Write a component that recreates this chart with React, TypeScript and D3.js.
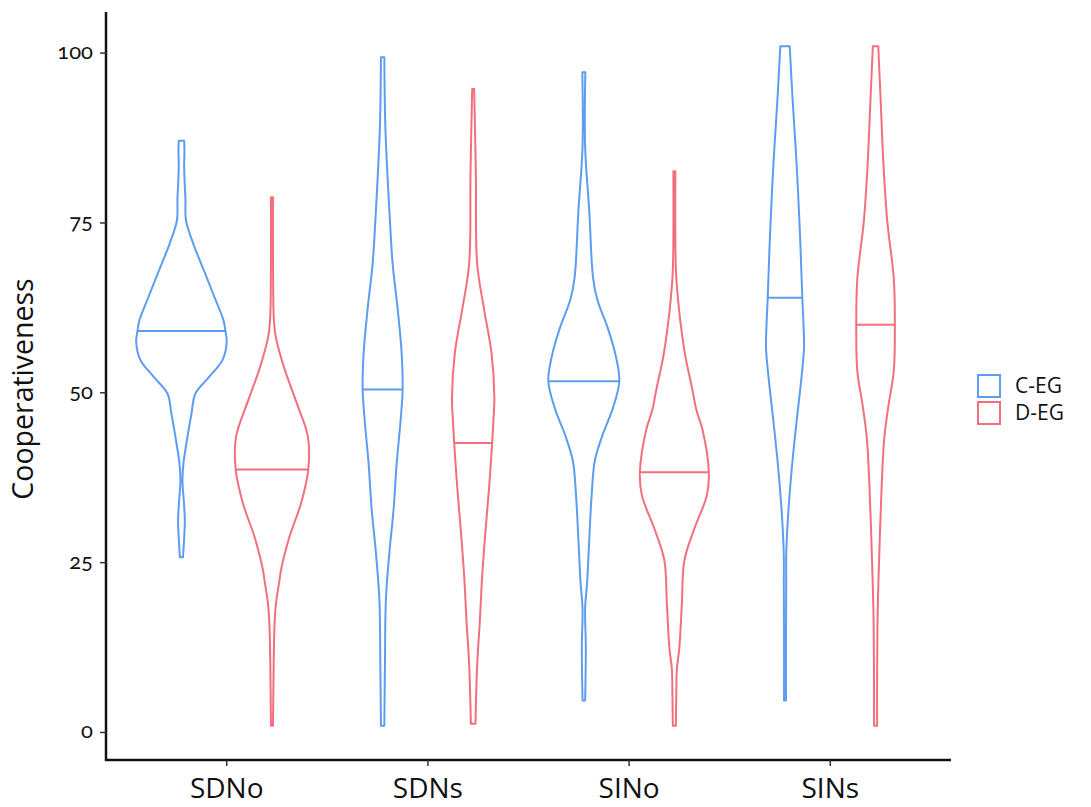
import React, { useEffect, useRef } from "react";
import * as d3 from "d3";

// Categories and groups
const categories = ["SDNo", "SDNs", "SINo", "SINs"];
const groups = ["C-EG", "D-EG"];
const groupColors = ["#5E9CF2", "#F2707E"];
const yTicks = [0, 25, 50, 75, 100];

// Density profiles: [cooperativeness, relative density], ascending by value
const sdnoCEG: [number, number][] = [
  [25.8, 1.5], [27.3, 2.2], [31.2, 3.4], [34, 2.4], [37.1, 1], [39.6, 2], [43.5, 6],
  [46.9, 10], [49.9, 14], [52.3, 27.5], [54.8, 41], [57.5, 45.3], [59.1, 44],
  [60.7, 42], [64.1, 33], [68, 22.5], [72, 11.7], [75.4, 4.5], [78.5, 4],
  [81, 3.2], [83.5, 2.7], [85.5, 3], [87.1, 2.7],
];
const sdnoDEG: [number, number][] = [
  [1, 1], [5, 1.3], [9, 1.6], [13, 2], [16, 2.6], [19, 4], [22.4, 7.5], [23.9, 9],
  [28.8, 17.5], [33.7, 29], [38.7, 36.3], [43.5, 36], [48.4, 25], [53.3, 13],
  [56, 7.5], [58.5, 3.5], [61, 1.8], [65, 1.2], [72, 1], [78.8, 1],
];
const sdnsCEG: [number, number][] = [
  [1, 1.7], [9.9, 2.3], [19.7, 3.3], [26.4, 6.7], [32.9, 11], [39.5, 14], [46, 18],
  [50.5, 20], [55.9, 19], [62.4, 15], [69, 10], [75.6, 7.2], [88.8, 2.8], [99.4, 1.7],
];
const sdnsDEG: [number, number][] = [
  [1.3, 2.3], [9.9, 4], [16.5, 6.7], [23, 9], [29.6, 12.3], [36.2, 16], [42.6, 19],
  [46, 20.3], [49.3, 21.2], [55.9, 18.3], [62.4, 10.8], [69, 4], [82.2, 2.7], [94.7, 1],
];
const sinoCEG: [number, number][] = [
  [4.7, 1.3], [12.5, 2], [18.3, 1.3], [22.1, 3.3], [28.6, 5.5], [34.9, 7.8], [40, 11],
  [43.9, 19], [47.7, 29], [51.7, 35.5], [55.4, 32], [59.3, 24.5], [63.8, 13.3],
  [67, 9.2], [76.6, 5.5], [86.2, 1.3], [97.2, 1.5],
];
const sinoDEG: [number, number][] = [
  [1, 1.5], [6.2, 2], [9.3, 2.5], [12.5, 5], [18.9, 7.5], [25.3, 10], [29.8, 19.5],
  [34.9, 32.5], [38.3, 34.5], [44.5, 28.3], [47.5, 22], [50.5, 18], [55.4, 11],
  [60.5, 6], [64, 3.5], [68.2, 1.5], [82.6, 1],
];
const sinsCEG: [number, number][] = [
  [4.7, 1], [15, 1], [22, 1.2], [26.6, 1.3], [33.3, 3.7], [40, 7.5], [46.6, 12.2],
  [51.3, 15.8], [56.6, 19], [60, 18.5], [64, 17.3], [73.3, 15], [83.4, 11.7],
  [93.4, 7.5], [101, 4.7],
];
const sinsDEG: [number, number][] = [
  [1, 1.5], [16.6, 2], [26.6, 3.8], [36.6, 6.2], [43.3, 8.7], [48, 12.8], [53.3, 18.3],
  [60, 19.3], [66.7, 18.3], [75.3, 11.7], [83.4, 8], [93.4, 5], [101, 2.7],
];

// Medians per category, [C-EG, D-EG]
const medians: [number, number][] = [
  [59.1, 38.7],
  [50.5, 42.6],
  [51.7, 38.3],
  [64, 60],
];

const profiles: [number, number][][][] = [
  [sdnoCEG, sdnoDEG],
  [sdnsCEG, sdnsDEG],
  [sinoCEG, sinoDEG],
  [sinsCEG, sinsDEG],
];

const W = 1091;
const H = 807;
const plotLeft = 106;
const plotRight = 951;
const plotTop = 12;
const plotBottom = 760;

export default function App() {
  const ref = useRef<SVGSVGElement | null>(null);

  useEffect(() => {
    const svg = d3.select(ref.current);
    svg.selectAll("*").remove();

    const y = d3.scaleLinear().domain([-4.05, 106.05]).range([plotBottom, plotTop]);
    const x = d3.scalePoint<string>().domain(categories).range([plotLeft, plotRight]).padding(0.6);
    const step = x.step();
    const dodge = d3.scalePoint<string>().domain(groups).range([-0.225 * step, 0.225 * step]);

    const maxDensity = d3.max(profiles.flat(), (p) => d3.max(p, (d) => d[1])) as number;
    const w = d3.scaleLinear().domain([0, maxDensity]).range([0, 0.225 * step]);

    const widthAt = (prof: [number, number][], v: number) => {
      const i = d3.bisector((d: [number, number]) => d[0]).left(prof, v);
      if (i <= 0) return prof[0][1];
      if (i >= prof.length) return prof[prof.length - 1][1];
      const a = prof[i - 1], b = prof[i];
      const t = (v - a[0]) / (b[0] - a[0]);
      return a[1] + t * (b[1] - a[1]);
    };

    const g = svg.append("g");

    categories.forEach((cat, ci) => {
      groups.forEach((grp, gi) => {
        const cx = (x(cat) as number) + (dodge(grp) as number);
        const prof = profiles[ci][gi];
        const area = d3
          .area<[number, number]>()
          .y((d) => y(d[0]))
          .x0((d) => cx - w(d[1]))
          .x1((d) => cx + w(d[1]))
          .curve(d3.curveCatmullRom.alpha(0.5));
        g.append("path")
          .attr("d", area(prof) as string)
          .attr("fill", "none")
          .attr("stroke", groupColors[gi])
          .attr("stroke-width", 2)
          .attr("stroke-linejoin", "round");
        const m = medians[ci][gi];
        const mw = w(widthAt(prof, m));
        g.append("line")
          .attr("x1", cx - mw)
          .attr("x2", cx + mw)
          .attr("y1", y(m))
          .attr("y2", y(m))
          .attr("stroke", groupColors[gi])
          .attr("stroke-width", 2);
      });
    });

    // Y axis
    const yAxis = svg.append("g");
    yAxis
      .append("line")
      .attr("x1", plotLeft)
      .attr("x2", plotLeft)
      .attr("y1", plotTop)
      .attr("y2", plotBottom + 1)
      .attr("stroke", "#111")
      .attr("stroke-width", 2.5);
    yTicks.forEach((t) => {
      yAxis
        .append("line")
        .attr("x1", plotLeft - 6)
        .attr("x2", plotLeft)
        .attr("y1", y(t))
        .attr("y2", y(t))
        .attr("stroke", "#333")
        .attr("stroke-width", 1.5);
      yAxis
        .append("text")
        .attr("x", plotLeft - 13)
        .attr("y", y(t) + 6)
        .attr("text-anchor", "end")
        .attr("font-family", "Lato, 'Open Sans', sans-serif")
        .attr("font-size", 22)
        .style("font-variant-numeric", "oldstyle-nums")
        .attr("fill", "#111")
        .text(String(t));
    });
    yAxis
      .append("text")
      .attr("transform", `translate(33, ${(plotTop + plotBottom) / 2 + 3}) rotate(-90)`)
      .attr("text-anchor", "middle")
      .attr("font-family", "'Open Sans', sans-serif")
      .attr("font-size", 28.5)
      .attr("fill", "#111")
      .text("Cooperativeness");

    // X axis
    const xAxis = svg.append("g");
    xAxis
      .append("line")
      .attr("x1", plotLeft - 1)
      .attr("x2", plotRight)
      .attr("y1", plotBottom)
      .attr("y2", plotBottom)
      .attr("stroke", "#111")
      .attr("stroke-width", 2.5);
    categories.forEach((cat) => {
      const cx = x(cat) as number;
      xAxis
        .append("line")
        .attr("x1", cx)
        .attr("x2", cx)
        .attr("y1", plotBottom)
        .attr("y2", plotBottom + 6)
        .attr("stroke", "#333")
        .attr("stroke-width", 1.5);
      xAxis
        .append("text")
        .attr("x", cx)
        .attr("y", 798)
        .attr("text-anchor", "middle")
        .attr("font-family", "'Open Sans', sans-serif")
        .attr("font-size", 28)
        .attr("fill", "#111")
        .text(cat);
    });

    // Legend
    const legend = svg.append("g").attr("transform", "translate(977, 374)");
    groups.forEach((grp, gi) => {
      legend
        .append("rect")
        .attr("x", 1)
        .attr("y", gi * 27 + 1)
        .attr("width", 22)
        .attr("height", 22)
        .attr("fill", "#fff")
        .attr("stroke", groupColors[gi])
        .attr("stroke-width", 2);
      legend
        .append("text")
        .attr("x", 38)
        .attr("y", gi * 27 + 19)
        .attr("font-family", "'Open Sans', sans-serif")
        .attr("font-size", 21)
        .attr("fill", "#111")
        .text(grp);
    });
  }, []);

  return (
    <svg
      ref={ref}
      width={W}
      height={H}
      style={{ position: "absolute", left: 0, top: 0, background: "#fff" }}
    />
  );
}
